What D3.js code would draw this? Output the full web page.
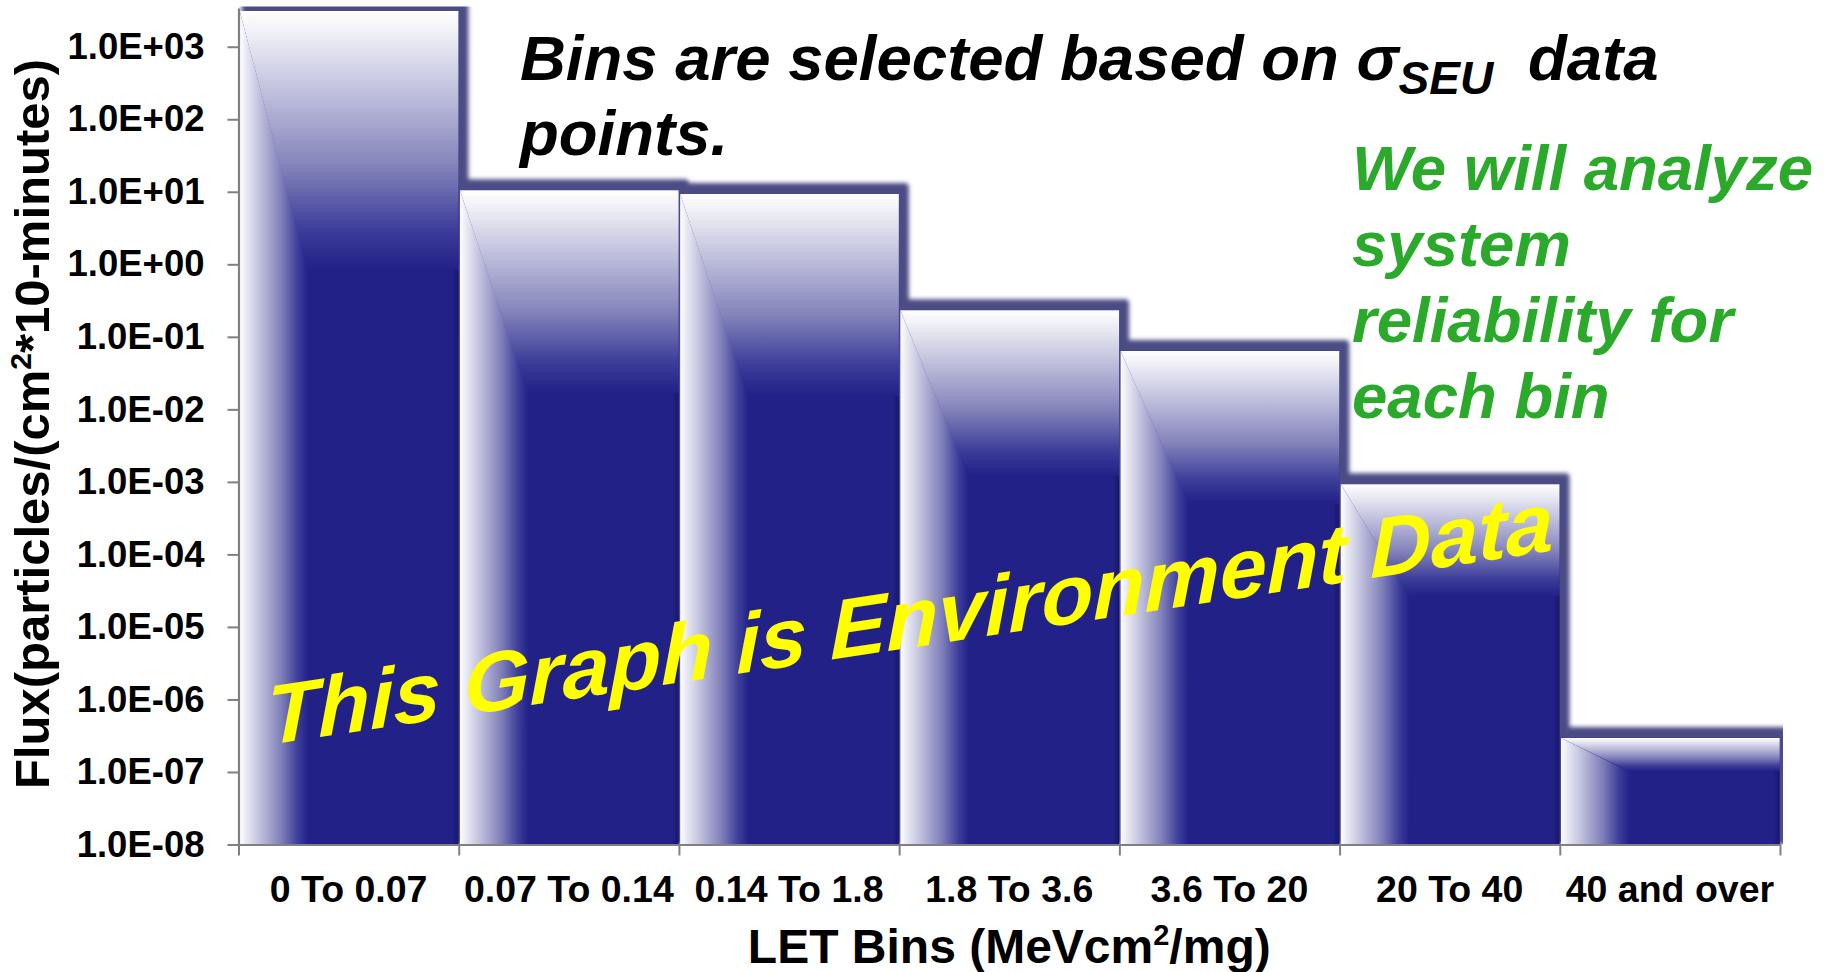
<!DOCTYPE html>
<html><head><meta charset="utf-8">
<script src="https://cdn.jsdelivr.net/npm/d3@7"></script>
<style>
body{margin:0;background:#fff;}
svg{display:block;font-family:"Liberation Sans",Arial,sans-serif;font-weight:bold;}
</style>
</head><body>
<svg id="chart" width="1829" height="972"></svg>
<script>
// ---- data ----
const categories = ["0 To 0.07","0.07 To 0.14","0.14 To 1.8","1.8 To 3.6","3.6 To 20","20 To 40","40 and over"];
const fluxValues = [3100, 10.5, 9.3, 0.233, 0.064, 0.00093, 2.95e-7];
const yTickValues = [1e3,1e2,1e1,1e0,1e-1,1e-2,1e-3,1e-4,1e-5,1e-6,1e-7,1e-8];
const yDomain = [1e-8, 3420];
const yTitleParts = ["Flux(particles/(cm", "2", "*10-minutes)"];
const xTitleParts = ["LET Bins (MeVcm", "2", "/mg)"];
const noteLine1 = ["Bins are selected based on σ", "SEU", "data"];
const noteLine2 = "points.";
const greenLines = ["We will analyze", "system", "reliability for", "each bin"];
const bannerText = "This Graph is Environment Data";

// ---- layout ----
const L = 238.5, R = 1780, T = 8, B = 844.5;
const NAVY = "#212187", AXIS = "#808080";

const svg = d3.select("#chart");
const defs = svg.append("defs");

const x = d3.scaleBand().domain(categories).range([L, R]).padding(0);
const xb = d3.scaleLinear().domain([0, categories.length]).range([L, R]);
const y = d3.scaleLog().domain(yDomain).range([B, T]);

// gradients
const gTop = defs.append("linearGradient").attr("id","gTop").attr("x1",0).attr("y1",0).attr("x2",0).attr("y2",1);
[[0,"#ffffff"],[0.08,"#f0f0f7"],[0.35,"#b8b8d9"],[0.6,"#8383bb"],[0.85,"#3c3c9a"],[1,NAVY]]
  .forEach(([o,c]) => gTop.append("stop").attr("offset",o).attr("stop-color",c));
const gLeft = defs.append("linearGradient").attr("id","gLeft").attr("x1",0).attr("y1",0).attr("x2",1).attr("y2",0);
[[0,"#ffffff"],[0.08,"#ececf5"],[0.35,"#b4b4d6"],[0.6,"#8080ba"],[0.85,"#3c3c9a"],[1,NAVY]]
  .forEach(([o,c]) => gLeft.append("stop").attr("offset",o).attr("stop-color",c));
const gRight = defs.append("linearGradient").attr("id","gRight").attr("x1",0).attr("y1",0).attr("x2",1).attr("y2",0);
gRight.append("stop").attr("offset",0).attr("stop-color","#14145a").attr("stop-opacity",0);
gRight.append("stop").attr("offset",1).attr("stop-color","#14145a").attr("stop-opacity",0.7);

const blur = defs.append("filter").attr("id","blur").attr("x","-20%").attr("y","-20%").attr("width","140%").attr("height","140%");
blur.append("feGaussianBlur").attr("stdDeviation",2.2);

defs.append("clipPath").attr("id","plotClip").append("rect")
  .attr("x", L).attr("y", T - 1.5).attr("width", R - L + 3).attr("height", B - T + 1.5);

const data = categories.map((c,i) => ({cat:c, v:fluxValues[i]}));
const geom = d => {
  const x0 = x(d.cat) + 1.2, x1 = x(d.cat) + x.bandwidth() - 0.3;
  const y0 = y(d.v), y1 = y(yDomain[0]);
  const w = x1 - x0, h = y1 - y0;
  return {x0, x1, y0, y1, w, h, a: 0.31 * w, b: 0.31 * h};
};

// shadows
svg.append("g").attr("clip-path","url(#plotClip)")
  .selectAll("rect").data(data).join("rect")
  .attr("x", d => geom(d).x0 + 2)
  .attr("y", d => geom(d).y0 - 11)
  .attr("width", d => geom(d).w + 8)
  .attr("height", d => geom(d).h + 11)
  .attr("rx", 4)
  .attr("fill", "#4b4b85")
  .attr("filter","url(#blur)");

// bars
const bars = svg.append("g").selectAll("g").data(data).join("g");
bars.append("rect")
  .attr("x", d => geom(d).x0).attr("y", d => geom(d).y0)
  .attr("width", d => geom(d).w).attr("height", d => geom(d).h)
  .attr("fill", NAVY);
bars.append("rect")
  .attr("x", d => geom(d).x1 - 6).attr("y", d => geom(d).y0 + geom(d).b)
  .attr("width", 6).attr("height", d => geom(d).h - geom(d).b)
  .attr("fill", "url(#gRight)");
bars.append("polygon")
  .attr("points", d => { const g = geom(d);
    return [[g.x0,g.y0],[g.x0+g.a+1,g.y0+g.b+1],[g.x0+g.a,g.y1],[g.x0,g.y1]].map(p=>p.join(",")).join(" "); })
  .attr("fill","url(#gLeft)");
bars.append("polygon")
  .attr("points", d => { const g = geom(d);
    return [[g.x0,g.y0],[g.x1,g.y0],[g.x1,g.y0+g.b],[g.x0+g.a,g.y0+g.b]].map(p=>p.join(",")).join(" "); })
  .attr("fill","url(#gTop)");

// axes
const fmt = v => { const e = Math.round(Math.log10(v)); return "1.0E" + (e < 0 ? "-" : "+") + String(Math.abs(e)).padStart(2,"0"); };
const yAxis = svg.append("g").attr("transform",`translate(${L},0)`)
  .call(d3.axisLeft(y).tickValues(yTickValues).tickFormat(fmt).tickSize(11).tickSizeOuter(0).tickPadding(23));
yAxis.selectAll("path.domain").attr("stroke",AXIS).attr("stroke-width",2.2);
yAxis.selectAll(".tick line").attr("stroke",AXIS).attr("stroke-width",2);
yAxis.selectAll(".tick text").attr("fill","#000").attr("font-size",36.5)
  .attr("font-family","Liberation Sans, Arial, sans-serif").attr("font-weight","bold");

const xTicks = svg.append("g").attr("transform",`translate(0,${B})`)
  .call(d3.axisBottom(xb).tickValues(d3.range(categories.length + 1)).tickFormat("").tickSize(11).tickSizeOuter(0));
xTicks.selectAll("path.domain").attr("stroke",AXIS).attr("stroke-width",2.2);
xTicks.selectAll(".tick line").attr("stroke",AXIS).attr("stroke-width",2);

const xAxis = svg.append("g").attr("transform",`translate(0,${B})`)
  .call(d3.axisBottom(x).tickSize(0).tickPadding(31));
xAxis.select("path.domain").remove();
xAxis.selectAll(".tick text").attr("fill","#000").attr("font-size",37.5)
  .attr("font-family","Liberation Sans, Arial, sans-serif").attr("font-weight","bold");

// axis titles
const yt = svg.append("text").attr("transform","translate(48.5,424) rotate(-90)")
  .attr("text-anchor","middle").attr("font-size",49).attr("fill","#000");
yt.append("tspan").text(yTitleParts[0]);
yt.append("tspan").attr("font-size",30).attr("dy",-18).text(yTitleParts[1]);
yt.append("tspan").attr("dy",18).text(yTitleParts[2]);

const xt = svg.append("text").attr("x",(L+R)/2).attr("y",963)
  .attr("text-anchor","middle").attr("font-size",48).attr("fill","#000");
xt.append("tspan").text(xTitleParts[0]);
xt.append("tspan").attr("font-size",29).attr("dy",-18).text(xTitleParts[1]);
xt.append("tspan").attr("dy",18).text(xTitleParts[2]);

// annotations
const note = svg.append("text").attr("x",520).attr("y",80).attr("font-size",63.5)
  .attr("font-style","italic").attr("fill","#000");
note.append("tspan").text(noteLine1[0]);
note.append("tspan").attr("font-size",46).attr("dy",14).text(noteLine1[1]);
note.append("tspan").attr("x",1528).attr("dy",-14).text(noteLine1[2]);
svg.append("text").attr("x",520).attr("y",155).attr("font-size",63.5)
  .attr("font-style","italic").attr("fill","#000").text(noteLine2);

svg.append("g").selectAll("text").data(greenLines).join("text")
  .attr("x",1352).attr("y",(d,i) => 190 + i*76)
  .attr("font-size",63.5).attr("font-style","italic").attr("fill","#2aa92a").text(d => d);

svg.append("text").attr("transform","translate(267,745) skewY(-8.6)")
  .attr("font-size",84.5).attr("font-style","italic").attr("fill","#ffff00").text(bannerText);
</script>
</body></html>
